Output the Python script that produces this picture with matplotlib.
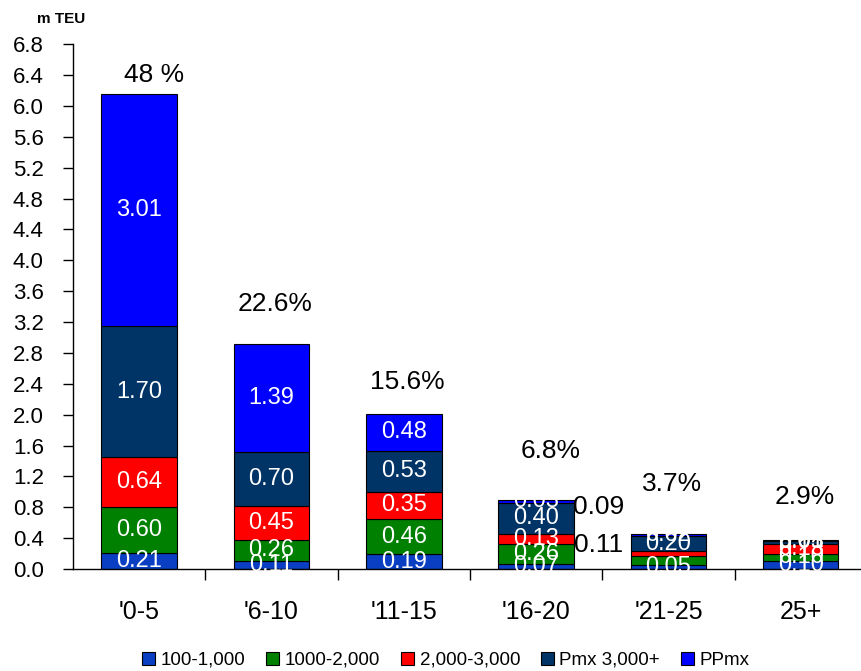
import numpy as np
import matplotlib.pyplot as plt

plt.rcParams['font.family'] = ['Liberation Sans', 'DejaVu Sans']

# categories (vessel age) and stacked series, m TEU
ages = ["'0-5", "'6-10", "'11-15", "'16-20", "'21-25", "25+"]
s_100_1000 = [0.21, 0.11, 0.19, 0.07, 0.05, 0.10]
s_1000_2000 = [0.60, 0.26, 0.46, 0.26, 0.12, 0.10]
s_2000_3000 = [0.64, 0.45, 0.35, 0.13, 0.06, 0.13]
s_pmx = [1.70, 0.70, 0.53, 0.40, 0.20, 0.03]
s_ppmx = [3.01, 1.39, 0.48, 0.03, 0.02, 0.01]
shares = ['48 %', '22.6%', '15.6%', '6.8%', '3.7%', '2.9%']
share_y = [6.40, 3.43, 2.42, 1.53, 1.10, 0.93]
# stray labels beside the '16-20 bar
stray = [('0.09', 0.81), ('0.11', 0.31)]

series = [('100-1,000', s_100_1000, '#0a3fc4'),
          ('1000-2,000', s_1000_2000, '#008000'),
          ('2,000-3,000', s_2000_3000, '#ff0000'),
          ('Pmx 3,000+', s_pmx, '#003366'),
          ('PPmx', s_ppmx, '#0000ff')]
hide = {(4, 1), (4, 2)}  # labels not drawn on the '21-25 bar

fig = plt.figure(figsize=(8.62, 6.71), dpi=100)
ax = fig.add_axes([0.0847, 0.152, 0.921, 0.782])
x = np.arange(len(ages))
bottom = np.zeros(len(ages))
handles = []
for si, (name, vals, col) in enumerate(series):
    vals = np.array(vals)
    b = ax.bar(x, vals, 0.57, bottom=bottom, color=col, edgecolor='black', lw=0.8, label=name)
    handles.append(b)
    for i, v in enumerate(vals):
        if (i, si) in hide:
            continue
        ax.text(x[i], bottom[i] + v / 2, f'{v:.2f}', ha='center', va='center',
                color='white', fontsize=17)
    bottom += vals

for i, (t, yv) in enumerate(zip(shares, share_y)):
    dx = 0.11 if i in (0, 3) else 0.03
    ax.text(x[i] + dx, yv, t, ha='center', va='center', fontsize=19)
for t, yv in stray:
    ax.text(3.47, yv, t, ha='center', va='center', fontsize=19)

ax.set_xlim(-0.5, len(ages) - 0.5)
ax.set_ylim(0, 6.8)
ax.set_yticks(np.arange(0, 6.81, 0.4))
ax.set_yticklabels([f'{v:.1f}' for v in np.arange(0, 6.81, 0.4)], fontsize=16)
ax.tick_params(axis='y', direction='out', length=7, width=1, pad=14)
ax.set_xticks(x + 0.5)
ax.set_xticklabels([])
ax.tick_params(axis='x', direction='out', length=8, width=1)
ax.set_xticks(x, minor=True)
ax.set_xticklabels(ages, minor=True, fontsize=18)
ax.tick_params(axis='x', which='minor', length=0, pad=22)
for s in ['top', 'right']:
    ax.spines[s].set_visible(False)
ax.spines['left'].set_linewidth(1)
ax.spines['bottom'].set_linewidth(1)

fig.text(0.043, 0.972, 'm TEU', fontsize=11, fontweight='bold', ha='left', va='center')
fig.legend(handles=handles, loc='center', bbox_to_anchor=(0.517, 0.016), ncol=5, frameon=False,
           fontsize=13.5, handlelength=0.7, handleheight=0.7, handletextpad=0.3, columnspacing=1.1)

fig.savefig('out.png', dpi=100, facecolor='white')
